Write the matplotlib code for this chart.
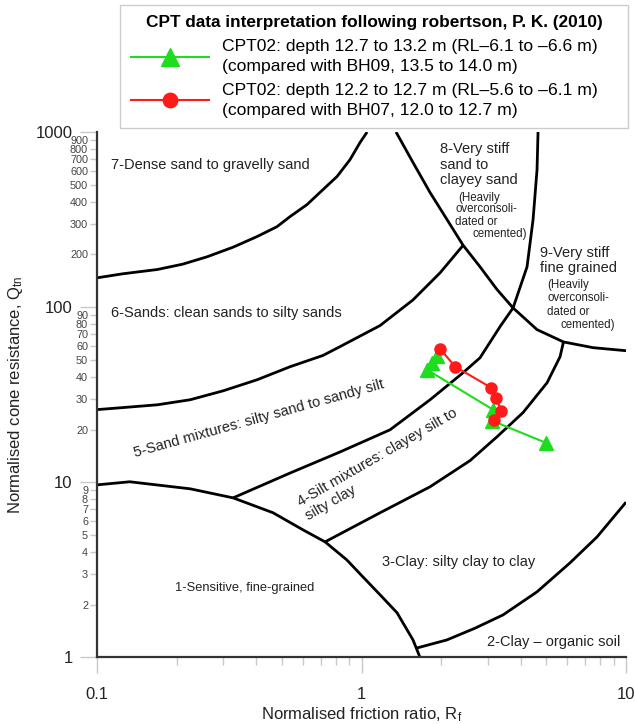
import matplotlib
matplotlib.use('Agg')
import matplotlib.pyplot as plt
from matplotlib.ticker import FixedLocator, FixedFormatter, NullFormatter

plt.rcParams['font.family'] = ['Liberation Sans', 'DejaVu Sans']
plt.rcParams['mathtext.fontset'] = 'custom'
plt.rcParams['mathtext.rm'] = 'Liberation Sans'
plt.rcParams['mathtext.it'] = 'Liberation Sans'

# measured points (friction ratio Rf %, normalised cone resistance Qtn)
green_rf = [1.93, 1.85, 1.77, 3.14, 3.11, 4.98]
green_qtn = [52.8, 48.2, 43.9, 26.0, 22.5, 16.8]
red_rf = [1.98, 2.26, 3.09, 3.23, 3.37, 3.17]
red_qtn = [57.9, 45.7, 34.7, 30.4, 25.6, 22.8]

green_label = ('CPT02: depth 12.7 to 13.2 m (RL\u20136.1 to \u20136.6 m)\n'
               '(compared with BH09, 13.5 to 14.0 m)')
red_label = ('CPT02: depth 12.2 to 12.7 m (RL\u20135.6 to \u20136.1 m)\n'
             '(compared with BH07, 12.0 to 12.7 m)')
legend_title = 'CPT data interpretation following robertson, P. K. (2010)'

# zone boundaries
b67_rf = [0.1, 0.125, 0.169, 0.211, 0.261, 0.327, 0.403, 0.479, 0.537, 0.622, 0.715, 0.808, 0.905, 0.987, 1.05]
b67_q = [147, 155, 164, 176, 194, 220, 253, 288, 329, 385, 469, 557, 696, 871, 1000]

b56_rf = [0.1, 0.125, 0.169, 0.225, 0.30, 0.403, 0.537, 0.715, 0.829, 1.175, 1.565, 1.981, 2.419]
b56_q = [26.0, 26.7, 27.7, 29.6, 33.3, 38.5, 45.7, 53.0, 59.5, 78.5, 110, 157, 225]

b45_rf = [0.327, 0.537, 0.829, 1.282, 1.816, 2.419, 2.805, 3.339, 3.74, 4.224, 4.451, 4.608, 4.648]
b45_q = [8.15, 11.3, 14.9, 19.95, 29.6, 42.2, 51.4, 77.4, 99, 170, 316, 610, 1000]

b34_rf = [0.728, 1.175, 1.816, 2.572, 3.253, 4.079, 5.027, 5.63, 5.8]
b34_q = [4.57, 6.70, 9.43, 13.3, 18.2, 25.0, 37.0, 52.1, 63.3]

b1_rf = [0.1, 0.133, 0.225, 0.327, 0.463, 0.601, 0.728, 0.879, 1.013, 1.175, 1.362, 1.565, 1.664]
b1_q = [9.67, 10.07, 9.18, 8.15, 6.70, 5.35, 4.57, 3.61, 2.88, 2.28, 1.80, 1.26, 1.0]

b2_rf = [1.61, 2.105, 2.687, 3.428, 4.608, 6.142, 7.77, 10]
b2_q = [1.13, 1.26, 1.47, 1.75, 2.37, 3.47, 4.88, 7.7]

b89_rf = [1.35, 1.565, 1.816, 2.105, 2.419, 2.805, 3.253, 3.74, 4.608, 5.8, 7.503, 10]
b89_q = [1000, 670, 451, 316, 226, 170, 126, 99, 74.4, 63.3, 58.7, 56.4]

boundaries = [(b67_rf, b67_q), (b56_rf, b56_q), (b45_rf, b45_q), (b34_rf, b34_q),
              (b1_rf, b1_q), (b2_rf, b2_q), (b89_rf, b89_q)]

y_major = [1, 10, 100, 1000]
y_minor = [2, 3, 4, 5, 6, 7, 8, 9, 20, 30, 40, 50, 60, 70, 80, 90,
           200, 300, 400, 500, 600, 700, 800, 900]
x_major = [0.1, 1, 10]
x_major_labels = ['0.1', '1', '10']
x_minor = [0.2, 0.3, 0.4, 0.5, 0.6, 0.7, 0.8, 0.9, 2, 3, 4, 5, 6, 7, 8, 9]

fig = plt.figure(figsize=(6.35, 7.24), dpi=100)
ax = fig.add_axes([0.1528, 0.0919, 0.8331, 0.7258])
ax.set_xscale('log')
ax.set_yscale('log')
ax.set_xlim(0.1, 10)
ax.set_ylim(1, 1000)

for rf, q in boundaries:
    ax.plot(rf, q, color='black', lw=2.0, solid_joinstyle='round', solid_capstyle='butt', zorder=2)

green = '#1edc1e'
red = '#ff1a1a'
ax.plot(green_rf, green_qtn, color=green, lw=1.5, marker='^', markersize=10, label=green_label, zorder=3)
ax.plot(red_rf, red_qtn, color=red, lw=1.5, marker='o', markersize=8, label=red_label, zorder=4)

# zone labels
tk = dict(fontsize=10.5, color='#222222')
ax.text(0.113, 652, '7-Dense sand to gravelly sand', ha='left', va='center', **tk)
ax.text(0.113, 92.6, '6-Sands: clean sands to silty sands', ha='left', va='center', **tk)
ax.text(0.41, 23.1, '5-Sand mixtures: silty sand to sandy silt', ha='center', va='center',
        rotation=15.5, rotation_mode='anchor', **tk)
ax.text(0.59, 7.24, '4-Silt mixtures: clayey silt to', ha='left', va='baseline',
        rotation=30, rotation_mode='anchor', **tk)
ax.text(0.628, 6.03, 'silty clay', ha='left', va='baseline',
        rotation=30, rotation_mode='anchor', **tk)
ax.text(1.98, 652, '8-Very stiff\nsand to\nclayey sand', ha='left', va='center', linespacing=1.15, **tk)
ax.text(4.73, 184, '9-Very stiff\nfine grained', ha='left', va='center', linespacing=1.1, **tk)
ax.text(1.195, 3.51, '3-Clay: silty clay to clay', ha='left', va='center', **tk)
ax.text(0.36, 2.5, '1-Sensitive, fine-grained', ha='center', va='center', fontsize=9.3, color='#222222')
ax.text(9.49, 1.226, '2-Clay \u2013 organic soil', ha='right', va='center', **tk)

sk = dict(fontsize=8.3, color='#222222', ha='left', va='center')
ax.text(2.317, 422, '(Heavily', **sk)
ax.text(2.257, 361, 'overconsoli-', **sk)
ax.text(2.257, 308, 'dated or', **sk)
ax.text(2.617, 260, 'cemented)', **sk)
ax.text(5.027, 134.5, '(Heavily', **sk)
ax.text(5.027, 113.3, 'overconsoli-', **sk)
ax.text(5.027, 94.3, 'dated or', **sk)
ax.text(5.63, 79.4, 'cemented)', **sk)

# axes styling
for s in ['top', 'right']:
    ax.spines[s].set_visible(False)
for s in ['left', 'bottom']:
    ax.spines[s].set_color('#333333')
    ax.spines[s].set_linewidth(1.6)

ax.xaxis.set_major_locator(FixedLocator(x_major))
ax.xaxis.set_major_formatter(FixedFormatter(x_major_labels))
ax.xaxis.set_minor_locator(FixedLocator(x_minor))
ax.xaxis.set_minor_formatter(NullFormatter())
ax.yaxis.set_major_locator(FixedLocator(y_major))
ax.yaxis.set_major_formatter(FixedFormatter([str(v) for v in y_major]))
ax.yaxis.set_minor_locator(FixedLocator(y_minor))
ax.yaxis.set_minor_formatter(FixedFormatter([str(v) for v in y_minor]))

tick_gray = '#c8c8c8'
ax.tick_params(axis='x', which='major', length=11.5, width=1, color=tick_gray, pad=10,
               labelsize=12, labelcolor='#222222')
ax.tick_params(axis='x', which='minor', length=5.5, width=1, color=tick_gray)
ax.tick_params(axis='y', which='major', length=12, width=1, color=tick_gray, pad=5.5,
               labelsize=12, labelcolor='#222222')
ax.tick_params(axis='y', which='minor', length=5, width=1, color=tick_gray, pad=1.5,
               labelsize=7.8, labelcolor='#444444')

ax.set_xlabel(r'Normalised friction ratio, R$_\mathrm{f}$', fontsize=12, labelpad=2, color='#222222')
ax.set_ylabel(r'Normalised cone resistance, Q$_\mathrm{tn}$', fontsize=12, labelpad=8, color='#222222')

leg_top = 1 - 5 / 724
leg = fig.legend(loc='upper left', bbox_to_anchor=(120 / 635, leg_top - 0.01, 508 / 635, 0.01),
                 mode='expand', title=legend_title,
                 title_fontproperties={'weight': 'bold', 'size': 12.4}, fontsize=12.6,
                 handlelength=4.5, numpoints=1, markerscale=1.3, frameon=True, fancybox=False,
                 edgecolor='#cccccc', framealpha=1, borderpad=0.6, labelspacing=0.5,
                 handletextpad=0.75, borderaxespad=0)
leg.get_frame().set_linewidth(1)
for t in leg.get_texts():
    t.set_linespacing(1.4)

fig.savefig('out.png', dpi=100)
